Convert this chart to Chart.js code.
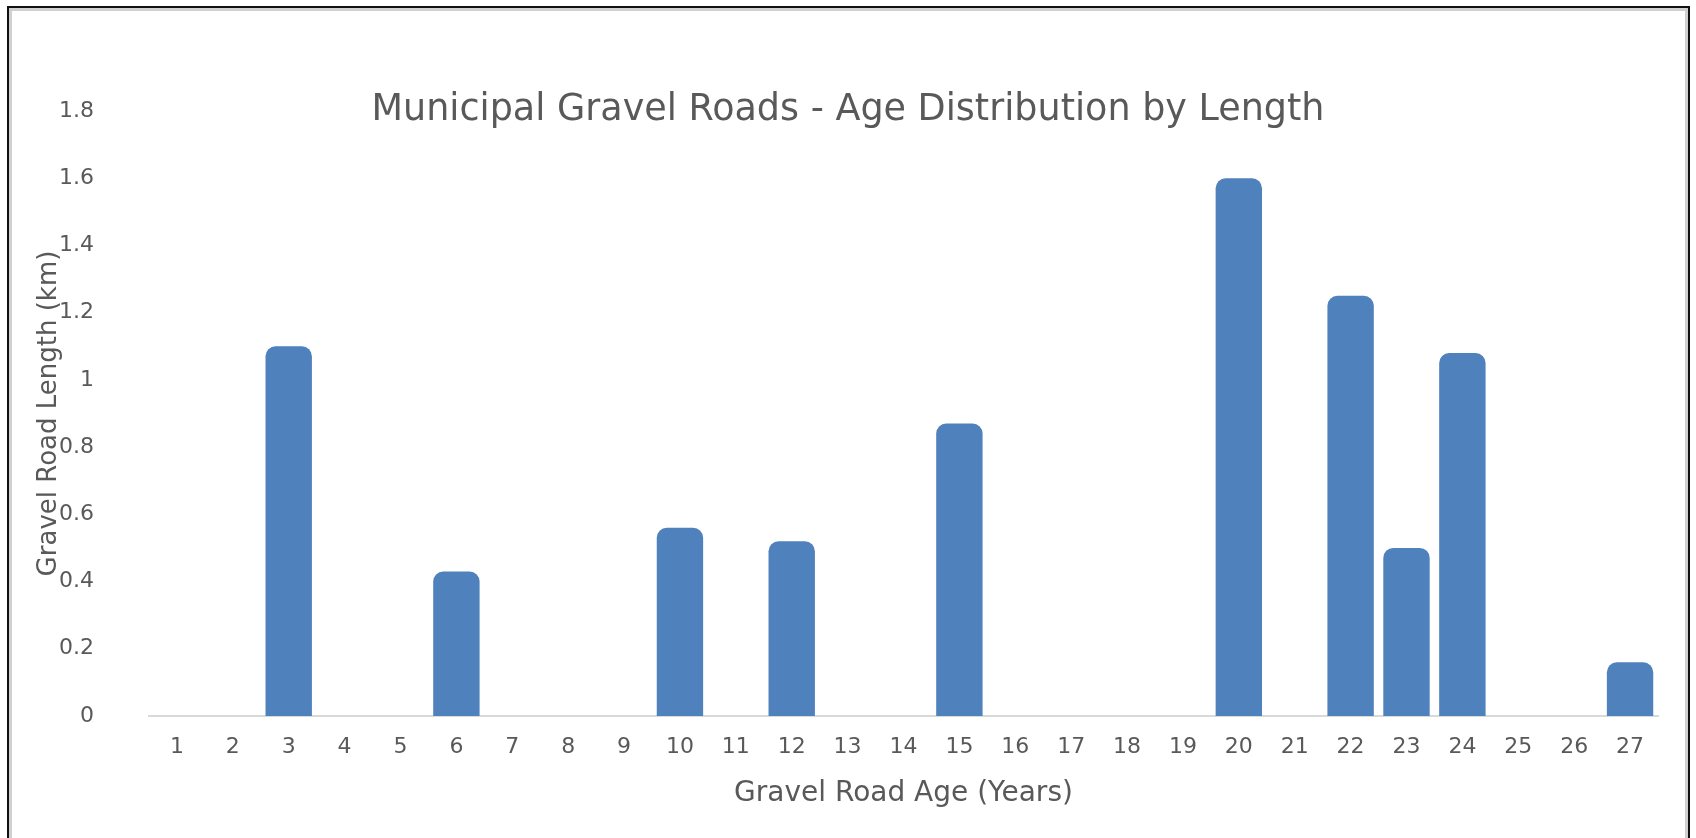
<!DOCTYPE html>
<html>
<head>
<meta charset="utf-8">
<script src="https://cdn.jsdelivr.net/npm/chart.js@4"></script>
<style>
  html, body { margin: 0; padding: 0; background: #fff; overflow: hidden; }
  #wrap { position: relative; width: 1696px; height: 838px; }
  #frame {
    position: absolute; left: 7px; top: 6px; width: 1679px; height: 900px;
    border: 2px solid #111; box-shadow: inset 0 0 0 3px #d0d0d0;
  }
  #mycanvas { position: absolute; left: 0; top: 0; }
</style>
</head>
<body>
<div id="wrap">
  <div id="frame"></div>
  <canvas id="mycanvas" width="1696" height="838"></canvas>
</div>
<script>
var ages = ['1','2','3','4','5','6','7','8','9','10','11','12','13','14','15','16','17','18','19','20','21','22','23','24','25','26','27'];
var lengths = [0, 0, 1.1, 0, 0, 0.43, 0, 0, 0, 0.56, 0, 0.52, 0, 0, 0.87, 0, 0, 0, 0, 1.6, 0, 1.25, 0.5, 1.08, 0, 0, 0.16];
var yTicks = [0, 0.2, 0.4, 0.6, 0.8, 1, 1.2, 1.4, 1.6, 1.8];

var textColor = '#595959';
var fontFam = "'DejaVu Sans', sans-serif";

var chartdata = {
	labels: ages,
	datasets: [
		{
			label: 'Gravel Road Length (km)',
			backgroundColor: '#4f81bd',
			borderColor: '#4f81bd',
			borderWidth: 0,
			borderRadius: { topLeft: 10, topRight: 10, bottomLeft: 0, bottomRight: 0 },
			borderSkipped: 'start',
			barPercentage: 0.83,
			categoryPercentage: 1.0,
			data: lengths
		}
	]
};

var ctx = document.getElementById('mycanvas');

var barGraph = new Chart(ctx, {
	type: 'bar',
	data: chartdata,
	options: {
		responsive: false,
		animation: false,
		layout: { padding: { left: 38, right: 38, top: 0, bottom: 0 } },
		plugins: {
			legend: { display: false },
			tooltip: { enabled: false },
			title: {
				display: true,
				text: 'Municipal Gravel Roads - Age Distribution by Length',
				color: textColor,
				font: { family: fontFam, size: 36.5, weight: 'normal', lineHeight: 1.2 },
				padding: { top: 89, bottom: -21.8 }
			}
		},
		scales: {
			x: {
				grid: { display: false, drawTicks: false },
				border: { display: true, color: '#d9d9d9', width: 2 },
				ticks: {
					color: textColor,
					font: { family: fontFam, size: 22 },
					padding: 18,
					maxRotation: 0,
					autoSkip: false
				},
				title: {
					display: true,
					text: 'Gravel Road Age (Years)',
					color: textColor,
					font: { family: fontFam, size: 28 },
					padding: { top: 0, bottom: 27 }
				},
				afterFit: function(scale) { scale.height = 122; }
			},
			y: {
				min: 0,
				max: 1.8,
				grid: { display: false, drawTicks: false },
				border: { display: false },
				afterBuildTicks: function(scale) {
					scale.ticks = yTicks.map(function(v) { return { value: v }; });
				},
				ticks: {
					color: textColor,
					font: { family: fontFam, size: 22 },
					padding: 55,
					callback: function(v) { return String(Math.round(v * 10) / 10); }
				},
				title: {
					display: true,
					text: 'Gravel Road Length (km)',
					color: textColor,
					font: { family: fontFam, size: 26 },
					padding: { top: -4, bottom: 0 }
				},
				afterFit: function(scale) { scale.width = 111; }
			}
		}
	}
});
</script>
</body>
</html>
